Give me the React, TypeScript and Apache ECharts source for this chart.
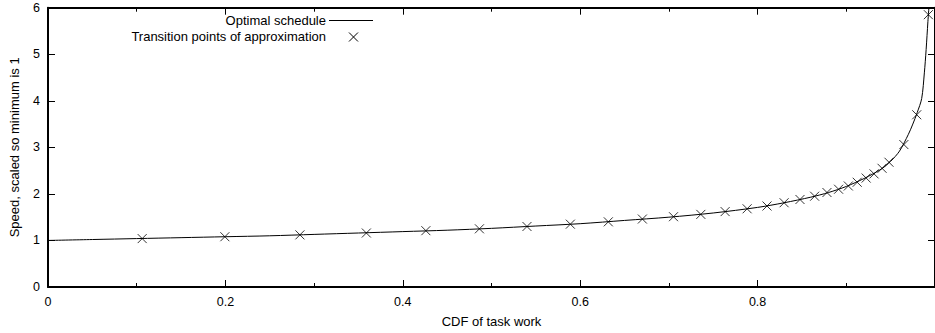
import React, { useEffect, useRef } from "react";
import * as echarts from "echarts";

// Optimal speed schedule, sampled along the work CDF
const scheduleCdf = [
  0, 0.05, 0.1, 0.15, 0.2, 0.25, 0.3, 0.35, 0.4, 0.45, 0.5, 0.55, 0.6, 0.65,
  0.7, 0.75, 0.8, 0.83, 0.86, 0.88, 0.9, 0.92, 0.93, 0.94, 0.95, 0.96, 0.97,
  0.975, 0.98, 0.985, 0.988, 0.99, 0.992, 0.9935,
];
const scheduleSpeed = [
  1.0, 1.02, 1.04, 1.06, 1.08, 1.1, 1.13, 1.16, 1.19, 1.22, 1.26, 1.31, 1.36,
  1.43, 1.5, 1.59, 1.71, 1.81, 1.93, 2.03, 2.16, 2.33, 2.43, 2.54, 2.7, 2.92,
  3.28, 3.5, 3.75, 4.05, 4.6, 5.1, 5.7, 6.1,
];

// Transition points of the piecewise-constant approximation
const transitionCdf = [
  0.1062, 0.1994, 0.284, 0.3589, 0.426, 0.4864, 0.54, 0.5889, 0.6317, 0.6701,
  0.7052, 0.736, 0.7634, 0.7882, 0.8106, 0.8299, 0.8478, 0.8643, 0.8782,
  0.8913, 0.9023, 0.9123, 0.9224, 0.9313, 0.9403, 0.9481, 0.9649, 0.9794,
  0.9925,
];
const transitionSpeed = [
  1.04, 1.08, 1.12, 1.16, 1.21, 1.25, 1.3, 1.35, 1.4, 1.46, 1.51, 1.56, 1.62,
  1.68, 1.74, 1.81, 1.88, 1.95, 2.03, 2.1, 2.17, 2.25, 2.34, 2.43, 2.55, 2.68,
  3.06, 3.7, 5.85,
];

const seriesNames = ["Optimal schedule", "Transition points of approximation"];
const xTitle = "CDF of task work";
const yTitle = "Speed, scaled so minimum is 1";

const FONT = '"Liberation Sans", Arial, Helvetica, sans-serif';
const INK = "#000";
const CROSS = "path://M0,0L10,10M10,0L0,10";

export default function App() {
  const ref = useRef<HTMLDivElement>(null);

  useEffect(() => {
    if (!ref.current) return;
    const chart = echarts.init(ref.current, null, { renderer: "svg" });

    const scheduleData = scheduleCdf.map((x, i) => [x, scheduleSpeed[i]]);
    const transitionData = transitionCdf.map((x, i) => [x, transitionSpeed[i]]);

    const tickFmt = (v: number) => String(Math.round(v * 10) / 10);

    const baseX = {
      type: "value" as const,
      min: 0,
      max: 1,
      interval: 0.2,
      splitLine: { show: false },
      axisLine: { show: true, onZero: false, lineStyle: { color: INK, width: 2 } },
      axisTick: { show: true, inside: true, length: 7, lineStyle: { color: INK, width: 1 } },
      minorTick: { show: true, splitNumber: 2, length: 4, lineStyle: { color: INK, width: 1 } },
      minorSplitLine: { show: false },
    };
    const baseY = {
      type: "value" as const,
      min: 0,
      max: 6,
      interval: 1,
      splitLine: { show: false },
      axisLine: { show: true, onZero: false, lineStyle: { color: INK, width: 2 } },
      axisTick: { show: true, inside: true, length: 7, lineStyle: { color: INK, width: 1 } },
    };

    chart.setOption({
      animation: false,
      backgroundColor: "#fff",
      textStyle: { fontFamily: FONT },
      grid: { left: 45, right: -4.4, top: 7.7, bottom: 45.3, containLabel: false },
      xAxis: [
        {
          ...baseX,
          position: "bottom",
          name: xTitle,
          nameLocation: "middle",
          nameGap: 28,
          nameTextStyle: { color: INK, fontSize: 13, fontFamily: FONT },
          axisLabel: {
            color: INK,
            fontSize: 12.5,
            fontFamily: FONT,
            margin: 8,
            showMaxLabel: false,
            formatter: tickFmt,
          },
        },
        {
          ...baseX,
          position: "top",
          axisLabel: { show: false },
        },
      ],
      yAxis: [
        {
          ...baseY,
          position: "left",
          name: yTitle,
          nameLocation: "middle",
          nameGap: 27,
          nameRotate: 90,
          nameTextStyle: { color: INK, fontSize: 13, fontFamily: FONT },
          axisLabel: { color: INK, fontSize: 12.5, fontFamily: FONT, margin: 8 },
        },
        {
          ...baseY,
          position: "right",
          axisLabel: { show: false },
        },
      ],
      series: [
        {
          name: seriesNames[0],
          type: "line",
          data: scheduleData,
          showSymbol: false,
          symbol: "none",
          smooth: 0.3,
          clip: true,
          lineStyle: { color: INK, width: 1 },
          xAxisIndex: 0,
          yAxisIndex: 0,
          z: 2,
        },
        {
          name: seriesNames[1],
          type: "scatter",
          data: transitionData,
          symbol: CROSS,
          symbolSize: 9,
          itemStyle: { color: "none", borderColor: INK, borderWidth: 1 },
          xAxisIndex: 0,
          yAxisIndex: 0,
          z: 3,
        },
      ],
      graphic: [
        {
          type: "text",
          x: 326,
          y: 20.5,
          style: {
            text: seriesNames[0],
            fill: INK,
            font: `13px ${FONT}`,
            textAlign: "right",
            textVerticalAlign: "middle",
          },
        },
        {
          type: "line",
          shape: { x1: 329, y1: 20.5, x2: 373, y2: 20.5 },
          style: { stroke: INK, lineWidth: 1 },
        },
        {
          type: "text",
          x: 326,
          y: 36.7,
          style: {
            text: seriesNames[1],
            fill: INK,
            font: `13px ${FONT}`,
            textAlign: "right",
            textVerticalAlign: "middle",
          },
        },
        {
          type: "line",
          shape: { x1: 349, y1: 32.5, x2: 358, y2: 41.5 },
          style: { stroke: INK, lineWidth: 1 },
        },
        {
          type: "line",
          shape: { x1: 358, y1: 32.5, x2: 349, y2: 41.5 },
          style: { stroke: INK, lineWidth: 1 },
        },
      ],
    });

    return () => chart.dispose();
  }, []);

  return (
    <div
      ref={ref}
      style={{ position: "fixed", left: 0, top: 0, width: 935, height: 333, background: "#fff" }}
    />
  );
}
